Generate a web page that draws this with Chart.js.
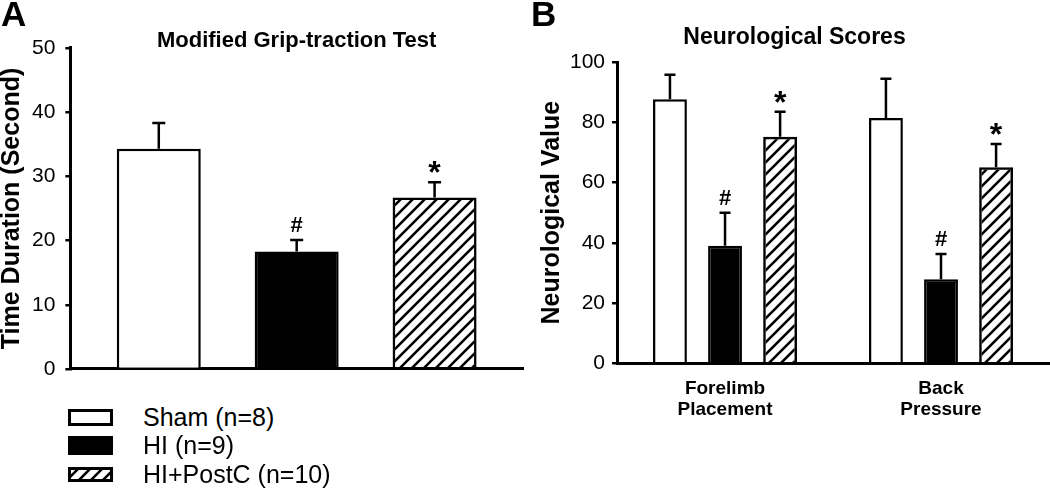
<!DOCTYPE html>
<html>
<head>
<meta charset="utf-8">
<script src="https://cdn.jsdelivr.net/npm/chart.js@4.4.1/dist/chart.umd.min.js"></script>
<style>
    body { margin: 0; background: #fff; width: 1050px; height: 493px; overflow: hidden; position: relative;
           font-family: "Liberation Sans", Arial, sans-serif; color: #000; }
    #wrapA { position: absolute; left: 0; top: 0; }
    #wrapB { position: absolute; left: 520px; top: 0; }
    .panel { position: absolute; top: -6px; font-weight: bold; font-size: 35px; }
    .row { position: absolute; left: 68px; height: 28px; display: flex; align-items: center; font-size: 25px; }
    .row canvas { margin-right: 30px; }
</style>
</head>
<body>
<div id="wrapA"><canvas id="chartA" width="525" height="400"></canvas></div>
<div id="wrapB"><canvas id="chartB" width="530" height="493"></canvas></div>
<div class="panel" style="left:1px">A</div>
<div class="panel" style="left:531px">B</div>
<div id="legend"></div>

<script>
// Groups and values
const groups = ["Sham (n=8)", "HI (n=9)", "HI+PostC (n=10)"];
const sigMarks = ["", "#", "*"];

// Panel A: modified grip-traction test (seconds)
const gripMeans = [34.3, 18.3, 26.7];
const gripErrors = [4.0, 1.8, 2.4];

// Panel B: neurological scores
const neuroLabels = [["Forelimb", "Placement"], ["Back", "Pressure"]];
const shamScores = [87.7, 81.4];
const hiScores = [39.0, 27.9];
const postcScores = [75.2, 65.1];
const shamErrors = [8.1, 13.1];
const hiErrors = [11.0, 8.4];
const postcErrors = [8.3, 7.7];

Chart.defaults.font.family = '"Liberation Sans", Arial, sans-serif';
Chart.defaults.color = "#000";

// Diagonal hatch fill for the HI+PostC group
function makeHatch() {
    const c = document.createElement("canvas");
    c.width = 12; c.height = 12;
    const g = c.getContext("2d");
    g.strokeStyle = "#000";
    g.lineWidth = 2.6;
    g.beginPath();
    g.moveTo(-1, 13); g.lineTo(13, -1);
    g.moveTo(-7, 7); g.lineTo(7, -7);
    g.moveTo(5, 19); g.lineTo(19, 5);
    g.stroke();
    return g.createPattern(c, "repeat");
}
const fills = ["#fff", "#000", makeHatch()];

// Upward error bars plus the # / * marks above them
const errorBars = {
    id: "errorBars",
    afterDatasetsDraw(chart, args, opts) {
        const { ctx } = chart;
        const y = chart.scales.y;
        chart.data.datasets.forEach((ds, i) => {
            const meta = chart.getDatasetMeta(i);
            meta.data.forEach((bar, j) => {
                const top = y.getPixelForValue(ds.data[j] + ds.errors[j]);
                ctx.save();
                ctx.strokeStyle = "#000";
                ctx.lineWidth = 2.5;
                ctx.beginPath();
                ctx.moveTo(bar.x, bar.y);
                ctx.lineTo(bar.x, top);
                ctx.moveTo(bar.x - opts.cap, top);
                ctx.lineTo(bar.x + opts.cap, top);
                ctx.stroke();
                ctx.fillStyle = "#000";
                ctx.textAlign = "center";
                ctx.textBaseline = "alphabetic";
                if (ds.mark === "#") {
                    ctx.font = 'bold 22px "Liberation Sans", Arial, sans-serif';
                    ctx.fillText("#", bar.x, top - 8);
                } else if (ds.mark === "*") {
                    ctx.font = 'bold 32px "Liberation Sans", Arial, sans-serif';
                    ctx.fillText("*", bar.x, top + 1);
                }
                ctx.restore();
            });
        });
    }
};

function yAxis(max, step, title, pad, titlePad) {
    return {
        min: 0,
        max: max,
        ticks: { stepSize: step, font: { size: 21 }, padding: pad, color: "#000" },
        grid: { drawOnChartArea: false, drawTicks: true, tickLength: 5, color: "#000", lineWidth: 2.5 },
        border: { color: "#000", width: 3 },
        title: { display: true, text: title, color: "#000",
                 font: { size: 25, weight: "bold", lineHeight: 1 }, padding: titlePad }
    };
}

// Panel A
new Chart(document.getElementById("chartA"), {
    type: "bar",
    data: {
        labels: ["Grip-traction"],
        datasets: groups.map((g, i) => ({
            label: g,
            data: [gripMeans[i]],
            errors: [gripErrors[i]],
            mark: sigMarks[i],
            backgroundColor: fills[i],
            borderColor: "#000",
            borderWidth: 2.5,
            categoryPercentage: 0.914,
            barPercentage: 0.609
        }))
    },
    options: {
        responsive: false,
        animation: false,
        layout: { padding: { left: 0, right: 2, top: 0, bottom: 23 } },
        plugins: {
            legend: { display: false },
            tooltip: { enabled: false },
            title: {
                display: true, text: "Modified Grip-traction Test", color: "#000", fullSize: false,
                font: { size: 22, weight: "bold", lineHeight: 0.68 }, padding: { top: 33, bottom: 0 }
            },
            errorBars: { cap: 6.5 }
        },
        scales: {
            x: { grid: { display: false }, ticks: { display: false }, border: { color: "#000", width: 3 } },
            y: yAxis(50, 10, "Time Duration (Second)", 10, { top: 0, bottom: -3 })
        }
    },
    plugins: [errorBars]
});

// Panel B
const neuroMeans = [shamScores, hiScores, postcScores];
const neuroErrors = [shamErrors, hiErrors, postcErrors];
new Chart(document.getElementById("chartB"), {
    type: "bar",
    data: {
        labels: neuroLabels,
        datasets: groups.map((g, i) => ({
            label: g,
            data: neuroMeans[i],
            errors: neuroErrors[i],
            mark: sigMarks[i],
            backgroundColor: fills[i],
            borderColor: "#000",
            borderWidth: 2.5,
            categoryPercentage: 0.765,
            barPercentage: 0.615
        }))
    },
    options: {
        responsive: false,
        animation: false,
        layout: { padding: { left: 20, right: 1, top: 0, bottom: 65 } },
        plugins: {
            legend: { display: false },
            tooltip: { enabled: false },
            title: {
                display: true, text: "Neurological Scores", color: "#000",
                font: { size: 23, weight: "bold", lineHeight: 1.2 }, padding: { top: 24, bottom: 10.5 }
            },
            errorBars: { cap: 5.5 }
        },
        scales: {
            x: {
                grid: { display: false },
                ticks: { font: { size: 19, weight: "bold", lineHeight: 1.1 }, padding: 7.5, color: "#000" },
                border: { color: "#000", width: 3 }
            },
            y: yAxis(100, 20, "Neurological Value", 7, { top: 0, bottom: -2 })
        }
    },
    plugins: [errorBars]
});

// Legend below panel A
const legend = document.getElementById("legend");
groups.forEach((g, i) => {
    const row = document.createElement("div");
    row.className = "row";
    row.style.top = (403 + i * 28.5) + "px";
    const sw = document.createElement("canvas");
    sw.width = 45;
    sw.height = i === 2 ? 15 : (i === 1 ? 19 : 17);
    const c = sw.getContext("2d");
    c.fillStyle = fills[i];
    c.fillRect(0, 0, sw.width, sw.height);
    c.strokeStyle = "#000";
    c.lineWidth = 3;
    c.strokeRect(1.5, 1.5, sw.width - 3, sw.height - 3);
    row.appendChild(sw);
    const span = document.createElement("span");
    span.textContent = g;
    row.appendChild(span);
    legend.appendChild(row);
});
</script>
</body>
</html>
